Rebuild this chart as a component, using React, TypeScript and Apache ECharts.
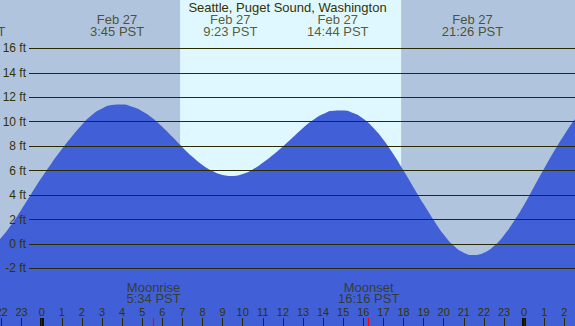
import React, { useEffect, useRef } from "react";
import * as echarts from "echarts";

// ---------- data ----------
const TITLE = "Seattle, Puget Sound, Washington";

// hours from midnight Feb 27 (PST), every half hour -> tide height in feet
const tideHours = [
  -3, -2.5, -2, -1.5, -1, -0.5, 0, 0.5, 1, 1.5, 2, 2.5, 3, 3.5, 4, 4.5, 5, 5.5, 6, 6.5, 7, 7.5, 8, 8.5, 9, 9.5,
  10, 10.5, 11, 11.5, 12, 12.5, 13, 13.5, 14, 14.5, 15, 15.5, 16, 16.5, 17, 17.5, 18, 18.5, 19, 19.5, 20, 20.5,
  21, 21.5, 22, 22.5, 23, 23.5, 24, 24.5, 25, 25.5, 26, 26.5, 27,
];
const tideFeet = [
  -0.7, -0.25, 0.55, 1.61, 2.85, 4.15, 5.43, 6.63, 7.74, 8.78, 9.75, 10.55, 11.08, 11.37, 11.4, 11.22, 10.86, 10.31,
  9.59, 8.76, 7.92, 7.13, 6.46, 5.96, 5.65, 5.57, 5.73, 6.1, 6.64, 7.28, 7.98, 8.73, 9.48, 10.13, 10.62, 10.9, 10.92,
  10.71, 10.25, 9.51, 8.52, 7.33, 6.0, 4.63, 3.27, 1.96, 0.77, -0.15, -0.71, -0.9, -0.72, -0.17, 0.72, 1.88, 3.2, 4.7,
  6.18, 7.6, 8.93, 10.13, 11.15,
];

const eventDays = ["Feb 26", "Feb 27", "Feb 27", "Feb 27", "Feb 27"];
const eventDayOffsets = [-1, 0, 0, 0, 0];
const eventTimes = ["20:40", "3:45", "9:23", "14:44", "21:26"];

const moonEvents = ["Moonrise", "Moonset"];
const moonTimes = ["5:34", "16:16"];

const sunrise = "6:53";
const sunset = "17:53";

const feetTicks = [-2, 0, 2, 4, 6, 8, 10, 12, 14, 16];
const midnightHours = [0, 24];

// ---------- layout / style ----------
const W = 575;
const H = 326;
const X0 = 41.7; // pixel of hour 0
const PPH = 20.1; // px per hour
const Y0 = 244; // pixel of 0 ft
const PPF = 12.23; // px per foot
const X_MIN = -3;
const X_MAX = 27;
const Y_MIN = -8;
const Y_MAX = 20;
const GRID_LINE_START_PX = 29;
const TICK_TOP_PX = 318;

const FONT = '"Liberation Sans", Arial, sans-serif';
const TEXT = "#333300";
const LINE = "#2a2a00";
const BG = "#B0C4DE";
const DAY = "#DFF7FF";
const BLUE = "#4160D8";

const toHours = (t: string, dayOffset = 0) => {
  const [h, m] = t.split(":").map(Number);
  return dayOffset * 24 + h + m / 60;
};
const hourAtPx = (px: number) => (px - X0) / PPH;
const ftAtPx = (py: number) => (Y0 - py) / PPF;

export default function App() {
  const ref = useRef<HTMLDivElement>(null);

  useEffect(() => {
    if (!ref.current) return;
    const chart = echarts.init(ref.current, undefined, { renderer: "svg" });

    const gridLeft = X0 + X_MIN * PPH;
    const gridRight = W - (X0 + X_MAX * PPH);
    const gridTop = Y0 - Y_MAX * PPF;
    const axisBottomPx = Y0 - Y_MIN * PPF;
    const gridBottom = H - axisBottomPx;

    const eventHours = eventTimes.map((t, i) => toHours(t, eventDayOffsets[i]));
    const eventLabels = eventTimes.map((t, i) => `${eventDays[i]}\n${t} PST`);
    const moonHours = moonTimes.map((t) => toHours(t));
    const moonLabels = moonTimes.map((t, i) => `${moonEvents[i]}\n${t} PST`);

    const tickTopFt = ftAtPx(TICK_TOP_PX);
    const tickBotFt = ftAtPx(H + 2);

    const gridLines = feetTicks.map((v) => [
      { coord: [hourAtPx(GRID_LINE_START_PX), v], lineStyle: { color: LINE, width: 1, type: "solid" } },
      { coord: [X_MAX, v] },
    ]);
    const midnightTicks = midnightHours.map((h) => [
      { coord: [h, tickTopFt], lineStyle: { color: "#111100", width: 4, type: "solid" } },
      { coord: [h, tickBotFt] },
    ]);
    const moonTicks = moonHours.map((h) => [
      { coord: [h, tickTopFt], lineStyle: { color: "#ff0000", width: 1.2, type: "solid" } },
      { coord: [h, tickBotFt] },
    ]);

    const labelStyle = {
      show: true,
      position: "inside",
      fontSize: 13,
      lineHeight: 11.7,
      color: TEXT,
      fontFamily: FONT,
    };

    const option: any = {
      animation: false,
      backgroundColor: BG,
      textStyle: { fontFamily: FONT },
      title: {
        text: TITLE,
        left: "center",
        top: 1,
        padding: 0,
        textStyle: { fontSize: 13, fontWeight: "normal", color: TEXT, fontFamily: FONT, lineHeight: 13 },
      },
      grid: {
        left: gridLeft,
        right: gridRight,
        top: gridTop,
        bottom: gridBottom,
        containLabel: false,
        outerBoundsMode: "none",
      },
      xAxis: {
        type: "value",
        min: X_MIN,
        max: X_MAX,
        interval: 1,
        offset: H - axisBottomPx,
        z: 10,
        axisLine: { show: false, onZero: false },
        axisTick: { show: true, inside: true, length: 8, lineStyle: { color: LINE, width: 1 } },
        axisLabel: {
          inside: true,
          margin: 13.8,
          verticalAlign: "middle",
          fontSize: 11,
          color: TEXT,
          fontFamily: FONT,
          formatter: (v: number) => String(((v % 24) + 24) % 24),
        },
        splitLine: { show: false },
      },
      yAxis: {
        type: "value",
        min: Y_MIN,
        max: Y_MAX,
        interval: 2,
        z: 10,
        axisLine: { show: false },
        axisTick: { show: false },
        splitLine: { show: false },
        axisLabel: {
          inside: true,
          align: "right",
          verticalAlign: "middle",
          margin: 26 - gridLeft,
          fontSize: 12,
          color: TEXT,
          fontFamily: FONT,
          formatter: (v: number) => (feetTicks.includes(v) ? `${v} ft` : ""),
        },
      },
      series: [
        {
          type: "line",
          name: "tide",
          data: tideHours.map((h, i) => [h, tideFeet[i]]),
          smooth: 0.5,
          showSymbol: false,
          symbol: "none",
          silent: true,
          z: 2,
          lineStyle: { width: 0, color: BLUE },
          areaStyle: { color: BLUE, opacity: 1, origin: "start" },
          markArea: {
            silent: true,
            z: 1,
            itemStyle: { color: DAY },
            data: [[{ xAxis: toHours(sunrise) }, { xAxis: toHours(sunset) }]],
          },
          markLine: {
            silent: true,
            symbol: ["none", "none"],
            label: { show: false },
            data: [...gridLines, ...midnightTicks, ...moonTicks],
          },
        },
        {
          type: "scatter",
          name: "events",
          clip: false,
          silent: true,
          z: 6,
          symbolSize: 1,
          itemStyle: { color: "transparent" },
          data: eventHours.map((h) => [h, ftAtPx(25.3)]),
          label: { ...labelStyle, formatter: (p: any) => eventLabels[p.dataIndex] },
        },
        {
          type: "scatter",
          name: "moon",
          clip: false,
          silent: true,
          z: 6,
          symbolSize: 1,
          itemStyle: { color: "transparent" },
          data: moonHours.map((h) => [h, ftAtPx(293)]),
          label: { ...labelStyle, formatter: (p: any) => moonLabels[p.dataIndex] },
        },
      ],
    };

    chart.setOption(option);
    return () => chart.dispose();
  }, []);

  return (
    <div
      ref={ref}
      style={{ position: "fixed", left: 0, top: 0, width: W, height: H }}
    />
  );
}
